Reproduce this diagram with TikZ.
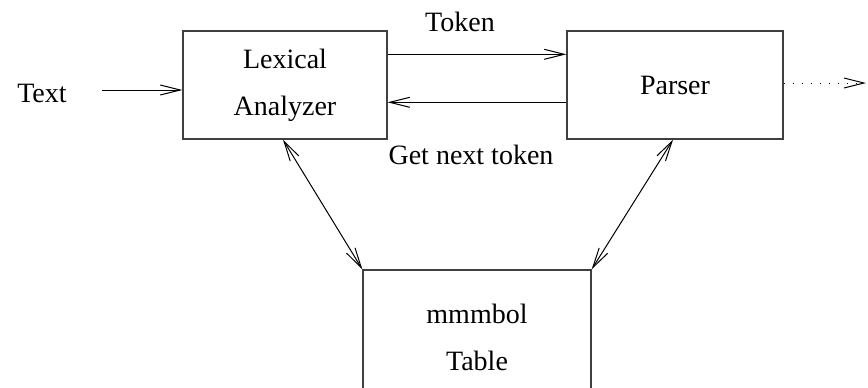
\documentclass[tikz,border=0pt]{standalone}
\usepackage{fontspec}
\setmainfont{Liberation Serif}
\usetikzlibrary{arrows.meta,calc}

\begin{document}
\begin{tikzpicture}[x=0.5pt,y=-0.5pt,->,>={Straight Barb[length=10pt,width=5pt]},line width=0.5pt,
	every node/.style={font=\fontsize{14}{23.5}\selectfont},
	block/.style={draw=black!75,line width=0.7pt,align=center,inner sep=0pt}]
	\clip (0,0) rectangle (868,387);
	\node[block,minimum width=102pt,minimum height=54pt] (lex) at (285,85) {Lexical\\Analyzer};
	\node[block,minimum width=108pt,minimum height=54pt] (par) at (675,85) {Parser};
	\node[block,minimum width=114pt,minimum height=67pt] (tab) at (477,337) {mmmbol\\Table};
	\node (txt) at (42,93) {Text};
	\node (tok) at (460,22) {Token};
	\node (nxt) at (471,155) {Get next token};
	\coordinate (out) at (866,83);

	\draw ([xshift=14pt,yshift=1.5pt]txt.east) -- ([yshift=-2.5pt]lex.west);
	\draw ([yshift=-12pt]lex.north east) -- ([yshift=-12pt]par.north west);
	\draw ([yshift=-36pt]par.north west) -- ([yshift=-36pt]lex.north east);
	\draw[dash pattern=on 0.5pt off 4pt] ([yshift=1pt]par.east) -- (out);
	\draw[<->] ([xshift=-1pt]lex.south) -- (tab.north west);
	\draw[<->] ([xshift=-1pt]par.south) -- (tab.north east);
\end{tikzpicture}
\end{document}
